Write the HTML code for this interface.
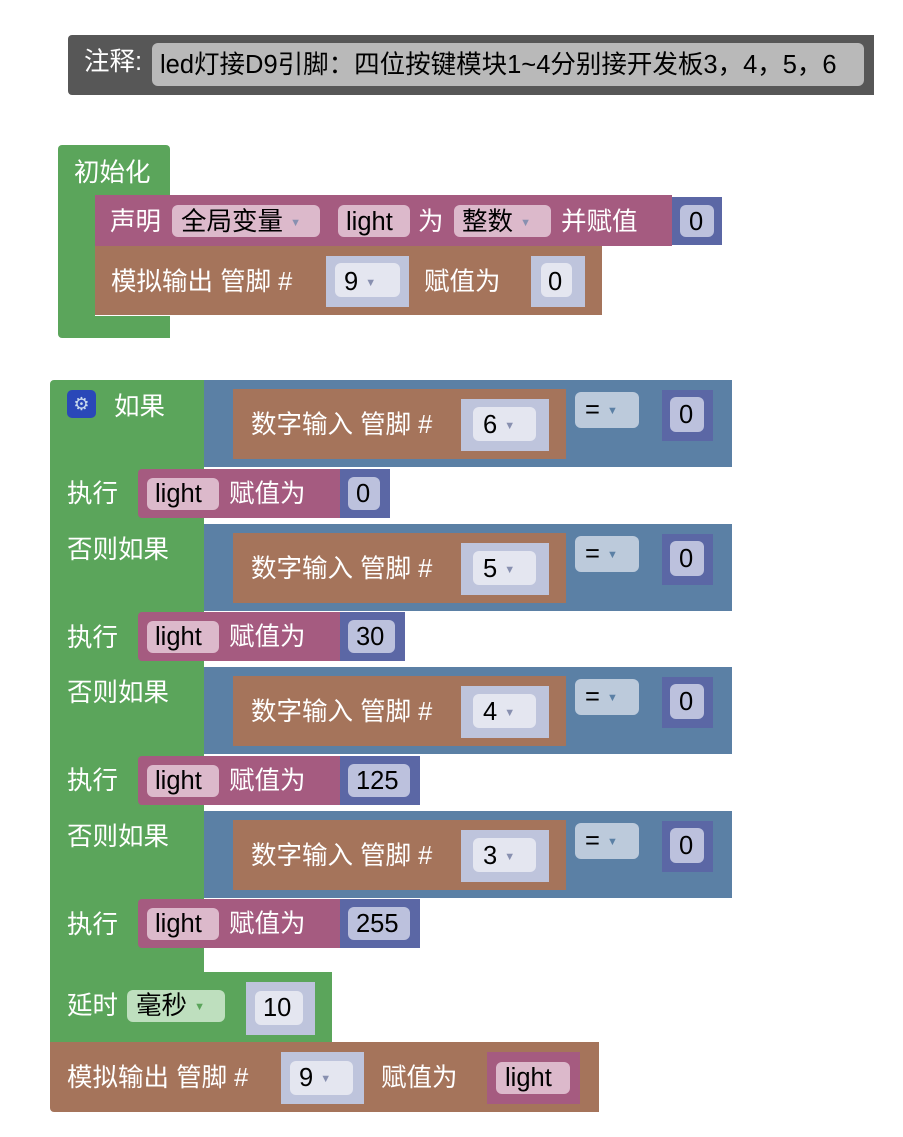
<!DOCTYPE html>
<html><head><meta charset="utf-8"><style>
body{margin:0;width:903px;height:1137px;background:#fff;position:relative;overflow:hidden;font-family:"Liberation Sans","Noto Sans CJK SC",sans-serif;}
div{position:absolute;box-sizing:border-box;}
.t{color:#fff;font-size:25.5px;line-height:33px;white-space:nowrap;}
.k{color:#000;font-size:25.5px;line-height:33px;white-space:nowrap;}
.g{background:#5ba55b}
.m{background:#a55b80}
.b{background:#a5745b}
.s{background:#5b80a5}
.n{background:#5b67a5}
.f{border-radius:6px;}
.dd{color:#8890b0;font-size:11px;vertical-align:middle;}
</style></head><body>

<!-- comment -->
<div style="left:68px;top:35px;width:806px;height:60px;background:#575757;border-radius:4px 0 0 4px"></div>
<div class="t" style="left:84px;top:46px">注释:</div>
<div class="f" style="left:152px;top:43px;width:712px;height:43px;background:#b9b9b9"></div>
<div class="k" style="left:160px;top:49px">led灯接D9引脚：四位按键模块1~4分别接开发板3，4，5，6</div>

<!-- init -->
<div class="g" style="left:58px;top:145px;width:112px;height:52px;border-radius:4px 4px 0 0"></div>
<div class="g" style="left:58px;top:195px;width:37px;height:125px"></div>
<div class="g" style="left:58px;top:316px;width:112px;height:22px;border-radius:0 0 0 4px"></div>
<div class="t" style="left:74px;top:157px">初始化</div>

<div class="m" style="left:95px;top:195px;width:577px;height:51px"></div>
<div class="t" style="left:110px;top:206px">声明</div>
<div class="f" style="left:172px;top:205px;width:148px;height:32px;background:#dcb9cb"></div>
<div class="k" style="left:181px;top:206px">全局变量 <span class="dd">▼</span></div>
<div class="f" style="left:338px;top:205px;width:72px;height:32px;background:#dcb9cb"></div>
<div class="k" style="left:346px;top:206px">light</div>
<div class="t" style="left:418px;top:206px">为</div>
<div class="f" style="left:454px;top:205px;width:97px;height:32px;background:#dcb9cb"></div>
<div class="k" style="left:462px;top:206px">整数 <span class="dd">▼</span></div>
<div class="t" style="left:561px;top:206px">并赋值</div>
<div class="n" style="left:672px;top:197px;width:50px;height:48px"></div>
<div class="f" style="left:680px;top:205px;width:34px;height:32px;background:#bcc1dd"></div>
<div class="k" style="left:689px;top:206px">0</div>

<div class="b" style="left:95px;top:246px;width:507px;height:69px"></div>
<div class="t" style="left:111px;top:266px">模拟输出 管脚 #</div>
<div style="left:326px;top:256px;width:83px;height:51px;background:#bec4dc"></div>
<div class="f" style="left:335px;top:263px;width:65px;height:34px;background:#e4e6f0"></div>
<div class="k" style="left:344px;top:266px">9 <span class="dd">▼</span></div>
<div class="t" style="left:424px;top:266px">赋值为</div>
<div style="left:531px;top:256px;width:54px;height:51px;background:#bec4dc"></div>
<div class="f" style="left:541px;top:263px;width:31px;height:34px;background:#e4e6f0"></div>
<div class="k" style="left:548px;top:266px">0</div>

<!-- if block -->
<div class="g" style="left:50px;top:380px;width:154px;height:592px;border-radius:4px 0 0 0"></div>
<div style="left:67px;top:390px;width:29px;height:28px;background:#2a48b8;border-radius:5px;color:#cde;font-size:18px;line-height:28px;text-align:center">⚙</div>
<div class="t" style="left:114px;top:391px">如果</div>
<div class="t" style="left:67px;top:478px">执行</div>
<div class="t" style="left:67px;top:534px">否则如果</div>
<div class="t" style="left:67px;top:622px">执行</div>
<div class="t" style="left:67px;top:677px">否则如果</div>
<div class="t" style="left:67px;top:765px">执行</div>
<div class="t" style="left:67px;top:821px">否则如果</div>
<div class="t" style="left:67px;top:909px">执行</div>

<!-- conditions -->
<div class="s" style="left:204px;top:380px;width:528px;height:87px"></div>
<div class="b" style="left:233px;top:389px;width:333px;height:70px"></div>
<div class="t" style="left:251px;top:409px">数字输入 管脚 #</div>
<div style="left:461px;top:399px;width:88px;height:52px;background:#bec4dc"></div>
<div class="f" style="left:473px;top:407px;width:63px;height:34px;background:#e4e6f0"></div>
<div class="k" style="left:483px;top:409px">6 <span class="dd">▼</span></div>
<div class="f" style="left:575px;top:392px;width:64px;height:36px;background:#bccadb"></div>
<div class="k" style="left:585px;top:394px">= <span style="font-size:11px;color:#5b80a5;vertical-align:middle">▼</span></div>
<div class="n" style="left:662px;top:390px;width:51px;height:51px"></div>
<div class="f" style="left:670px;top:397px;width:34px;height:35px;background:#bcc1dd"></div>
<div class="k" style="left:679px;top:399px">0</div>

<div class="s" style="left:204px;top:524px;width:528px;height:87px"></div>
<div class="b" style="left:233px;top:533px;width:333px;height:70px"></div>
<div class="t" style="left:251px;top:553px">数字输入 管脚 #</div>
<div style="left:461px;top:543px;width:88px;height:52px;background:#bec4dc"></div>
<div class="f" style="left:473px;top:551px;width:63px;height:34px;background:#e4e6f0"></div>
<div class="k" style="left:483px;top:553px">5 <span class="dd">▼</span></div>
<div class="f" style="left:575px;top:536px;width:64px;height:36px;background:#bccadb"></div>
<div class="k" style="left:585px;top:538px">= <span style="font-size:11px;color:#5b80a5;vertical-align:middle">▼</span></div>
<div class="n" style="left:662px;top:534px;width:51px;height:51px"></div>
<div class="f" style="left:670px;top:541px;width:34px;height:35px;background:#bcc1dd"></div>
<div class="k" style="left:679px;top:543px">0</div>

<div class="s" style="left:204px;top:667px;width:528px;height:87px"></div>
<div class="b" style="left:233px;top:676px;width:333px;height:70px"></div>
<div class="t" style="left:251px;top:696px">数字输入 管脚 #</div>
<div style="left:461px;top:686px;width:88px;height:52px;background:#bec4dc"></div>
<div class="f" style="left:473px;top:694px;width:63px;height:34px;background:#e4e6f0"></div>
<div class="k" style="left:483px;top:696px">4 <span class="dd">▼</span></div>
<div class="f" style="left:575px;top:679px;width:64px;height:36px;background:#bccadb"></div>
<div class="k" style="left:585px;top:681px">= <span style="font-size:11px;color:#5b80a5;vertical-align:middle">▼</span></div>
<div class="n" style="left:662px;top:677px;width:51px;height:51px"></div>
<div class="f" style="left:670px;top:684px;width:34px;height:35px;background:#bcc1dd"></div>
<div class="k" style="left:679px;top:686px">0</div>

<div class="s" style="left:204px;top:811px;width:528px;height:87px"></div>
<div class="b" style="left:233px;top:820px;width:333px;height:70px"></div>
<div class="t" style="left:251px;top:840px">数字输入 管脚 #</div>
<div style="left:461px;top:830px;width:88px;height:52px;background:#bec4dc"></div>
<div class="f" style="left:473px;top:838px;width:63px;height:34px;background:#e4e6f0"></div>
<div class="k" style="left:483px;top:840px">3 <span class="dd">▼</span></div>
<div class="f" style="left:575px;top:823px;width:64px;height:36px;background:#bccadb"></div>
<div class="k" style="left:585px;top:825px">= <span style="font-size:11px;color:#5b80a5;vertical-align:middle">▼</span></div>
<div class="n" style="left:662px;top:821px;width:51px;height:51px"></div>
<div class="f" style="left:670px;top:828px;width:34px;height:35px;background:#bcc1dd"></div>
<div class="k" style="left:679px;top:830px">0</div>

<!-- exec rows -->
<div class="m" style="left:138px;top:469px;width:202px;height:49px;border-radius:4px 0 0 4px"></div>
<div class="f" style="left:147px;top:478px;width:72px;height:32px;background:#dcb9cb"></div>
<div class="k" style="left:155px;top:478px">light</div>
<div class="t" style="left:229px;top:478px">赋值为</div>
<div class="n" style="left:340px;top:469px;width:50px;height:49px"></div>
<div class="f" style="left:348px;top:477px;width:32px;height:33px;background:#bcc1dd"></div>
<div class="k" style="left:356px;top:478px">0</div>

<div class="m" style="left:138px;top:612px;width:202px;height:49px;border-radius:4px 0 0 4px"></div>
<div class="f" style="left:147px;top:621px;width:72px;height:32px;background:#dcb9cb"></div>
<div class="k" style="left:155px;top:621px">light</div>
<div class="t" style="left:229px;top:621px">赋值为</div>
<div class="n" style="left:340px;top:612px;width:65px;height:49px"></div>
<div class="f" style="left:348px;top:620px;width:47px;height:33px;background:#bcc1dd"></div>
<div class="k" style="left:356px;top:621px">30</div>

<div class="m" style="left:138px;top:756px;width:202px;height:49px;border-radius:4px 0 0 4px"></div>
<div class="f" style="left:147px;top:765px;width:72px;height:32px;background:#dcb9cb"></div>
<div class="k" style="left:155px;top:765px">light</div>
<div class="t" style="left:229px;top:765px">赋值为</div>
<div class="n" style="left:340px;top:756px;width:80px;height:49px"></div>
<div class="f" style="left:348px;top:764px;width:62px;height:33px;background:#bcc1dd"></div>
<div class="k" style="left:356px;top:765px">125</div>

<div class="m" style="left:138px;top:899px;width:202px;height:49px;border-radius:4px 0 0 4px"></div>
<div class="f" style="left:147px;top:908px;width:72px;height:32px;background:#dcb9cb"></div>
<div class="k" style="left:155px;top:908px">light</div>
<div class="t" style="left:229px;top:908px">赋值为</div>
<div class="n" style="left:340px;top:899px;width:80px;height:49px"></div>
<div class="f" style="left:348px;top:907px;width:62px;height:33px;background:#bcc1dd"></div>
<div class="k" style="left:356px;top:908px">255</div>

<!-- delay -->
<div class="g" style="left:50px;top:972px;width:282px;height:70px"></div>
<div class="t" style="left:67px;top:990px">延时</div>
<div class="f" style="left:127px;top:990px;width:98px;height:32px;background:#bedfbe"></div>
<div class="k" style="left:136px;top:990px">毫秒 <span style="font-size:11px;color:#5ba55b;vertical-align:middle">▼</span></div>
<div style="left:246px;top:982px;width:69px;height:53px;background:#bec4dc"></div>
<div class="f" style="left:255px;top:991px;width:48px;height:34px;background:#e4e6f0"></div>
<div class="k" style="left:263px;top:992px">10</div>

<!-- final analog -->
<div class="b" style="left:50px;top:1042px;width:549px;height:70px;border-radius:0 0 0 4px"></div>
<div class="t" style="left:67px;top:1062px">模拟输出 管脚 #</div>
<div style="left:281px;top:1052px;width:83px;height:52px;background:#bec4dc"></div>
<div class="f" style="left:290px;top:1061px;width:63px;height:34px;background:#e4e6f0"></div>
<div class="k" style="left:299px;top:1062px">9 <span class="dd">▼</span></div>
<div class="t" style="left:381px;top:1062px">赋值为</div>
<div class="m" style="left:487px;top:1052px;width:93px;height:52px"></div>
<div class="f" style="left:496px;top:1062px;width:74px;height:32px;background:#dcb9cb"></div>
<div class="k" style="left:505px;top:1062px">light</div>

</body></html>
